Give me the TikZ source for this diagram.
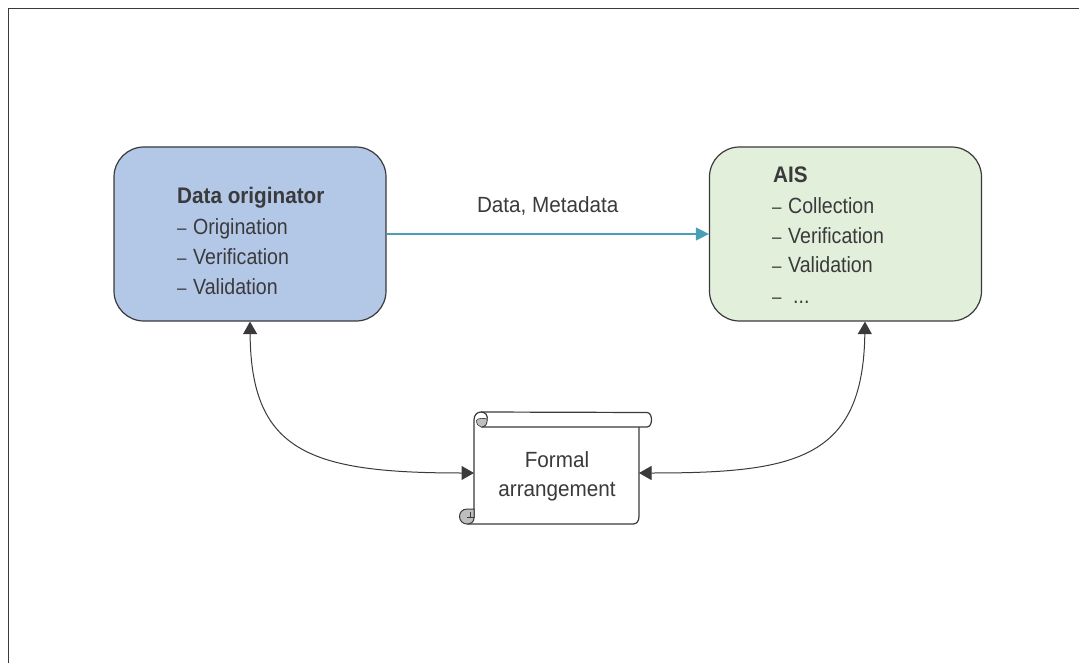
\documentclass[tikz,border=0pt]{standalone}
\usepackage{fontspec}
\setmainfont[FakeStretch=0.89]{Liberation Sans}
\newfontfamily\boldface[FakeStretch=0.92]{Liberation Sans Bold}
\newfontfamily\widerface[FakeStretch=0.94]{Liberation Sans}
\usetikzlibrary{arrows.meta}
\definecolor{ink}{HTML}{3A3A3C}
\definecolor{bluefill}{HTML}{B3C7E6}
\definecolor{greenfill}{HTML}{E2EFDA}
\definecolor{teal}{HTML}{4A9FB8}
\definecolor{rollgray}{HTML}{BEBEBE}
\newcommand{\dashitem}[1]{\makebox[16pt][l]{\fontsize{19}{20}\selectfont –}#1}
\tikzset{
  x=1pt,y=-1pt,
  procbox/.style={draw=ink,line width=1.2pt,rounded corners=30pt,minimum width=272pt,minimum height=174pt,inner sep=0pt},
  txt/.style={anchor=base west,inner sep=0pt,text=ink,font=\fontsize{22}{26}\selectfont},
  boldtxt/.style={anchor=base west,inner sep=0pt,text=ink,font=\fontsize{22.5}{26}\selectfont\boldface},
  biarrow/.style={draw=ink,line width=1pt,{Triangle[length=12.5pt,width=14pt]}-{Triangle[length=12.5pt,width=14pt]}},
  flow/.style={draw=teal,line width=1.1pt,-{Triangle[length=13pt,width=13pt]}},
  scrollline/.style={draw=ink,line width=1.2pt,line join=round},
}
\begin{document}
\begin{tikzpicture}
\useasboundingbox (0,0) rectangle (1079,663);
% page frame
\draw[ink,line width=1.3pt] (8.5,663) -- (8.5,8.5) -- (1079,8.5);
% boxes
\node[procbox,fill=bluefill] (orig) at (250,234) {};
\node[procbox,fill=greenfill] (ais) at (845.5,234) {};
% box texts
\node[boldtxt] (t1) at (177,204) {Data originator};
\node[txt] (t2) at (177,235) {\dashitem{Origination}};
\node[txt] (t3) at (177,265) {\dashitem{Verification}};
\node[txt] (t4) at (177,294) {\dashitem{Validation}};
\node[boldtxt] (a1) at (773,183) {AIS};
\node[txt] (a2) at (772,214) {\dashitem{Collection}};
\node[txt] (a3) at (772,243.5) {\dashitem{Verification}};
\node[txt] (a4) at (772,272.5) {\dashitem{Validation}};
\node[txt] (a5) at (772,303) {\dashitem{\hspace{5pt}...}};
% scroll
\fill[white] (474,427) rectangle (639,524);
\draw[scrollline,fill=white] (474,420) -- (474,518) (639,427) -- (639,516)
  .. controls (639,521) and (637,524) .. (633,524) -- (467,524);
\draw[scrollline,fill=white] (481,412) -- (647,412.5)
  .. controls (653,412.5) and (653,427) .. (647,427) -- (482,427);
\draw[scrollline] (474,420) .. controls (474,415) and (477,412) .. (481,412)
  .. controls (486,412) and (488,416) .. (487,420)
  .. controls (487,424) and (485,427) .. (481,427);
\fill[rollgray,draw=ink,line width=0.6pt] (476.5,420.5) .. controls (477,418) and (484,418) .. (487,419)
  .. controls (487.5,424) and (485,427) .. (481,427) .. controls (478,426) and (476.5,424) .. (476.5,420.5) -- cycle;
\fill[rollgray,draw=ink,line width=1pt] (474,509) -- (467,509)
  .. controls (462,509) and (459.5,513) .. (459.5,516.5)
  .. controls (459.5,521) and (463,524) .. (467,524)
  .. controls (471,524) and (474,522) .. (474,518) -- cycle;
\draw[ink,line width=0.7pt] (467,517) -- (474,517) (470,512) -- (470,517);
\node[inner sep=0pt,minimum width=165pt,minimum height=97pt,align=center,text=ink,
  font=\fontsize{22}{29}\selectfont\widerface] (scroll) at (557,476.5) {Formal\\arrangement};
% connector ends
\coordinate (origdown) at (orig.south);
\coordinate (aisdown) at ([xshift=19.5pt]ais.south);
\coordinate (scrollL) at (474,473);
\coordinate (scrollR) at (639,473);
% connectors
\draw[flow] (orig.east) -- node[above=18pt,text=ink,inner sep=0pt,font=\fontsize{22}{26}\selectfont\widerface] (lbl) {Data, Metadata} (ais.west);
\draw[biarrow] (origdown) .. controls (251,452) and (310,473) .. (scrollL);
\draw[biarrow] (aisdown) .. controls (863,460) and (795,473) .. (scrollR);
\end{tikzpicture}
\end{document}
